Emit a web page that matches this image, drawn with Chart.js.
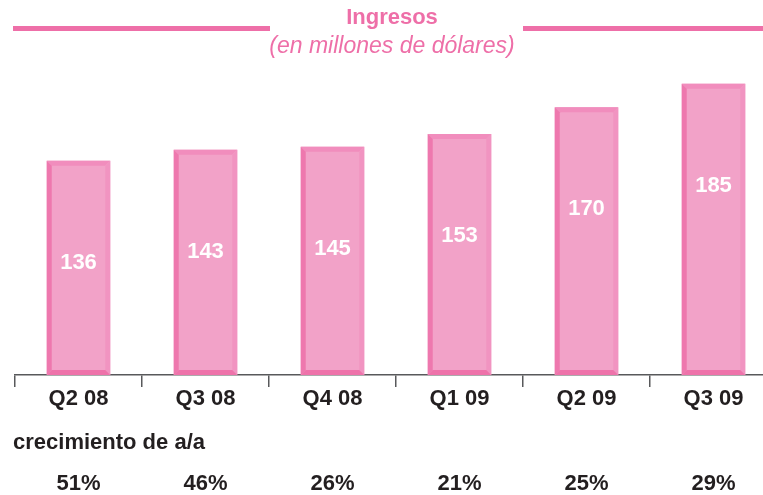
<!doctype html>
<html>

<head>
    <meta charset="utf-8">
    <title>Ingresos</title>
    <script src="https://cdn.jsdelivr.net/npm/chart.js"></script>
    <style>
        html, body {
            margin: 0;
            padding: 0;
            background: #ffffff;
            overflow: hidden;
        }

        .caja {
            position: relative;
            width: 763px;
            height: 495px;
            overflow: hidden;
        }

        .caja canvas {
            position: absolute;
            left: 0;
            top: 0;
        }
    </style>
</head>

<body>
    <div class="caja">
        <canvas id="chartIngresos" width="800" height="495"></canvas>
    </div>

    <script>
        // trimestres, ingresos (millones USD) y crecimiento interanual
        var trimestres = ['Q2 08', 'Q3 08', 'Q4 08', 'Q1 09', 'Q2 09', 'Q3 09'];
        var ingresos = [136, 143, 145, 153, 170, 185];
        var crecimiento = ['51%', '46%', '26%', '21%', '25%', '29%'];

        var rosa = '#ee6fa8';
        var texto = '#231f20';
        var fuente = '"Liberation Sans", Arial, Helvetica, sans-serif';

        /* -- titulo con las dos rayas a los lados -- */
        var titulo = {
            id: 'titulo',
            afterDraw: function (chart) {
                var ctx = chart.ctx;
                ctx.save();
                ctx.fillStyle = rosa;
                ctx.fillRect(13, 26, 257, 5);
                ctx.fillRect(523, 26, 240, 5);
                ctx.textAlign = 'center';
                ctx.textBaseline = 'middle';
                ctx.font = 'bold 22px ' + fuente;
                ctx.fillText('Ingresos', 392, 18);
                ctx.font = 'italic 23px ' + fuente;
                ctx.fillText('(en millones de dólares)', 392, 47);
                ctx.restore();
            }
        };

        /* -- biselado de las barras y valor en blanco -- */
        var bisel = {
            id: 'bisel',
            afterDatasetsDraw: function (chart) {
                var ctx = chart.ctx;
                var meta = chart.getDatasetMeta(0);
                var b = 5;
                ctx.save();
                meta.data.forEach(function (barra, i) {
                    var l = barra.x - barra.width / 2;
                    var r = barra.x + barra.width / 2;
                    var t = barra.y;
                    var bot = barra.base;
                    var lados = [
                        ['#f18dbd', [[l, t], [r, t], [r - b, t + b], [l + b, t + b]]],
                        ['#ee78ae', [[l, t], [l + b, t + b], [l + b, bot - b], [l, bot]]],
                        ['#f194c1', [[r, t], [r, bot], [r - b, bot - b], [r - b, t + b]]],
                        ['#ee72aa', [[l, bot], [l + b, bot - b], [r - b, bot - b], [r, bot]]]
                    ];
                    lados.forEach(function (lado) {
                        ctx.fillStyle = lado[0];
                        ctx.beginPath();
                        lado[1].forEach(function (p, k) {
                            if (k == 0) ctx.moveTo(p[0], p[1]);
                            else ctx.lineTo(p[0], p[1]);
                        });
                        ctx.closePath();
                        ctx.fill();
                    });
                    ctx.fillStyle = '#ffffff';
                    ctx.font = 'bold 22px ' + fuente;
                    ctx.textAlign = 'center';
                    ctx.textBaseline = 'middle';
                    ctx.fillText(String(ingresos[i]), barra.x, t + 102);
                });
                ctx.restore();
            }
        };

        /* -- fila de crecimiento de a/a debajo del eje -- */
        var filaCrecimiento = {
            id: 'filaCrecimiento',
            afterDraw: function (chart) {
                var ctx = chart.ctx;
                var eje = chart.scales.x;
                ctx.save();
                ctx.fillStyle = texto;
                ctx.font = 'bold 22px ' + fuente;
                ctx.textBaseline = 'middle';
                ctx.textAlign = 'left';
                ctx.fillText('crecimiento de a/a', 13, 443);
                ctx.textAlign = 'center';
                crecimiento.forEach(function (c, i) {
                    ctx.fillText(c, eje.getPixelForValue(i), 484);
                });
                ctx.restore();
            }
        };

        var contexto = document.getElementById('chartIngresos');
        var grafico = new Chart(contexto, {
            type: 'bar',
            data: {
                labels: trimestres,
                datasets: [{
                    data: ingresos,
                    backgroundColor: '#f2a2c8',
                    borderWidth: 0,
                    barPercentage: 0.5,
                    categoryPercentage: 1.0
                }]
            },
            options: {
                responsive: false,
                animation: false,
                layout: {
                    padding: { top: 60, left: 15, right: 23, bottom: 0 }
                },
                plugins: {
                    legend: { display: false },
                    tooltip: { enabled: false }
                },
                scales: {
                    x: {
                        afterFit: function (scale) { scale.height = 120; },
                        border: { display: true, color: '#58595b', width: 1.5 },
                        grid: {
                            display: true,
                            offset: true,
                            drawOnChartArea: false,
                            drawTicks: true,
                            tickLength: 12,
                            color: '#58595b',
                            lineWidth: 1.5
                        },
                        ticks: {
                            color: texto,
                            padding: 1,
                            font: { family: fuente, size: 22, weight: 'bold', lineHeight: 1 }
                        }
                    },
                    y: {
                        display: false,
                        min: 0,
                        max: 200
                    }
                }
            },
            plugins: [titulo, bisel, filaCrecimiento]
        });
    </script>
</body>

</html>
